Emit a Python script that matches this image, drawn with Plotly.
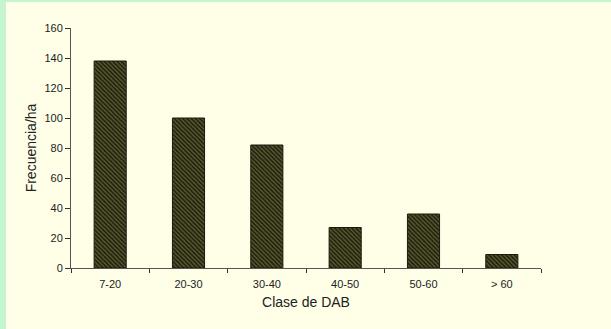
import plotly.graph_objects as go

categories = ["7-20", "20-30", "30-40", "40-50", "50-60", "> 60"]
frecuencia = [138, 100, 82, 27, 36, 9]
y_ticks = [0, 20, 40, 60, 80, 100, 120, 140, 160]

W, H = 611, 329
ML, MR, MT, MB = 71, 70, 28, 61
PW, PH = W - ML - MR, H - MT - MB

fig = go.Figure()
fig.add_trace(go.Bar(
    x=categories,
    y=frecuencia,
    width=0.41,
    marker=dict(
        color="#4a4a26",
        line=dict(color="#1a1a10", width=1),
        pattern=dict(shape="\\", fgcolor="#1c1c0c", bgcolor="#5a5a30",
                     size=3, solidity=0.5, fillmode="replace"),
    ),
))

# light green frame strips on left and top (paper coords relative to plot area)
fig.add_shape(type="rect", xref="paper", yref="paper",
              x0=-ML / PW, x1=(6 - ML) / PW, y0=-MB / PH, y1=1 + MT / PH,
              fillcolor="#c4f5cf", line_width=0, layer="below")
fig.add_shape(type="rect", xref="paper", yref="paper",
              x0=-ML / PW, x1=1 + MR / PW, y0=1 + (MT - 2) / PH, y1=1 + MT / PH,
              fillcolor="#c4f5cf", line_width=0, layer="below")

font = dict(family="Liberation Sans, Arial, sans-serif", size=11, color="#222222")

fig.update_layout(
    width=W, height=H,
    margin=dict(l=ML, r=MR, t=MT, b=MB, pad=0),
    paper_bgcolor="#ffffe8",
    plot_bgcolor="#ffffe8",
    font=font,
    showlegend=False,
    bargap=0.59,
    xaxis=dict(
        type="category",
        showline=True, linecolor="#555555", linewidth=1,
        ticks="outside", tickson="boundaries", ticklen=4, tickcolor="#333333",
        ticklabelstandoff=6,
        showgrid=False, zeroline=False,
        tickfont=dict(size=11, color="#222222"),
        title=dict(text="Clase de DAB", font=dict(size=14, color="#222222"), standoff=7),
    ),
    yaxis=dict(
        range=[0, 160],
        tickvals=y_ticks,
        showline=True, linecolor="#555555", linewidth=1,
        ticks="outside", ticklen=5, tickcolor="#333333",
        showgrid=False, zeroline=False,
        tickfont=dict(size=11, color="#222222"),
        title=dict(text="Frecuencia/ha", font=dict(size=14, color="#222222"), standoff=4),
    ),
)

fig.write_html(
    "out.html",
    config={"displayModeBar": False},
    post_script="document.body.style.margin='0';document.body.style.overflow='hidden';",
)
